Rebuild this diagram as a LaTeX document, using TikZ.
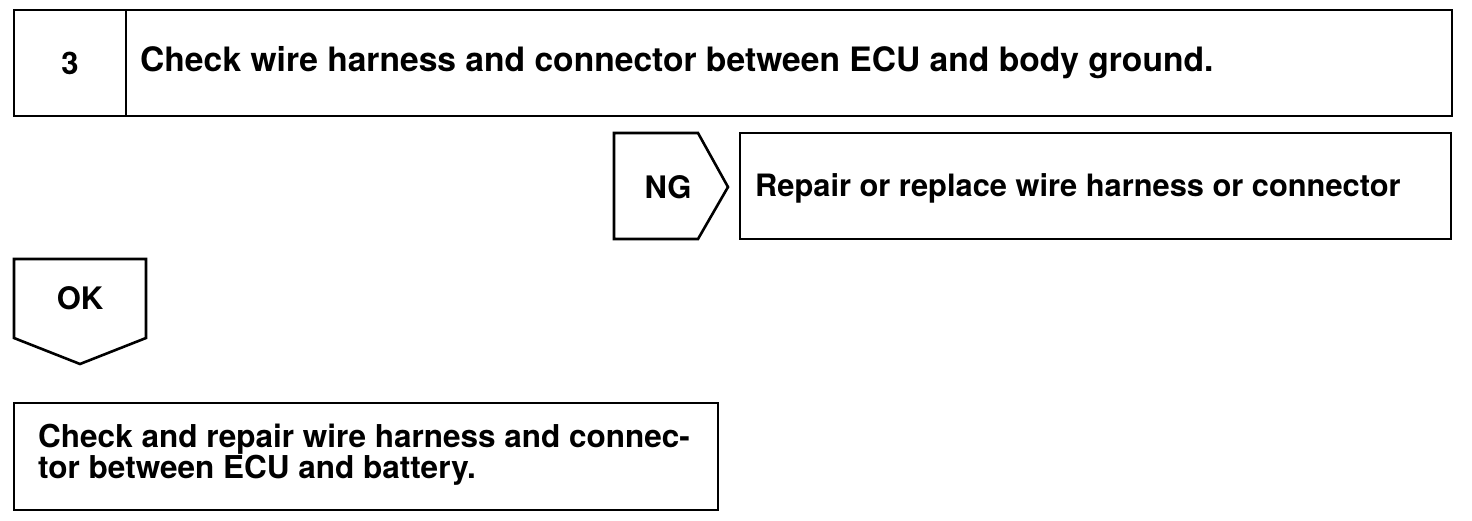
\documentclass[tikz,border=0pt]{standalone}
\usepackage{fontspec}
\setmainfont{TeX Gyre Heros}
\tikzset{
  frame/.style={draw=black,line width=2.6pt},
  label/.style={font=\bfseries\fontsize{31}{31}\selectfont,inner sep=0pt}
}
\begin{document}
\begin{tikzpicture}[x=1pt,y=-1pt]
  \useasboundingbox (0,0) rectangle (1472,520);

  % step header
  \draw[frame] (14,10) rectangle (1452,116);
  \draw[frame] (126,10) -- (126,116);
  \node[label] (num) at (70,63) {3};
  \node[label,anchor=west,font=\bfseries\fontsize{33.6}{33.6}\selectfont] (title) at (140,63) {Check wire harness and connector between ECU and body ground.};

  % NG branch
  \draw[frame] (614,133) -- (698,133) -- (728,187) -- (698,239) -- (614,239) -- cycle;
  \node[label] (ng) at (668,187) {NG};
  \draw[frame] (740,133) rectangle (1451,239);
  \node[label,anchor=west,font=\bfseries\fontsize{30.8}{30.8}\selectfont] (repair) at (755,188) {Repair or replace wire harness or connector};

  % OK branch
  \draw[frame] (14,259) -- (146,259) -- (146,338) -- (80,364) -- (14,338) -- cycle;
  \node[label] (ok) at (80,298) {OK};
  \draw[frame] (14,403) rectangle (718,510);
  \node[label,anchor=west,align=left,font=\bfseries\fontsize{31.5}{25}\selectfont] (check) at (38,455)
    {Check and repair wire harness and connec-\\tor between ECU and battery.};

\end{tikzpicture}
\end{document}
